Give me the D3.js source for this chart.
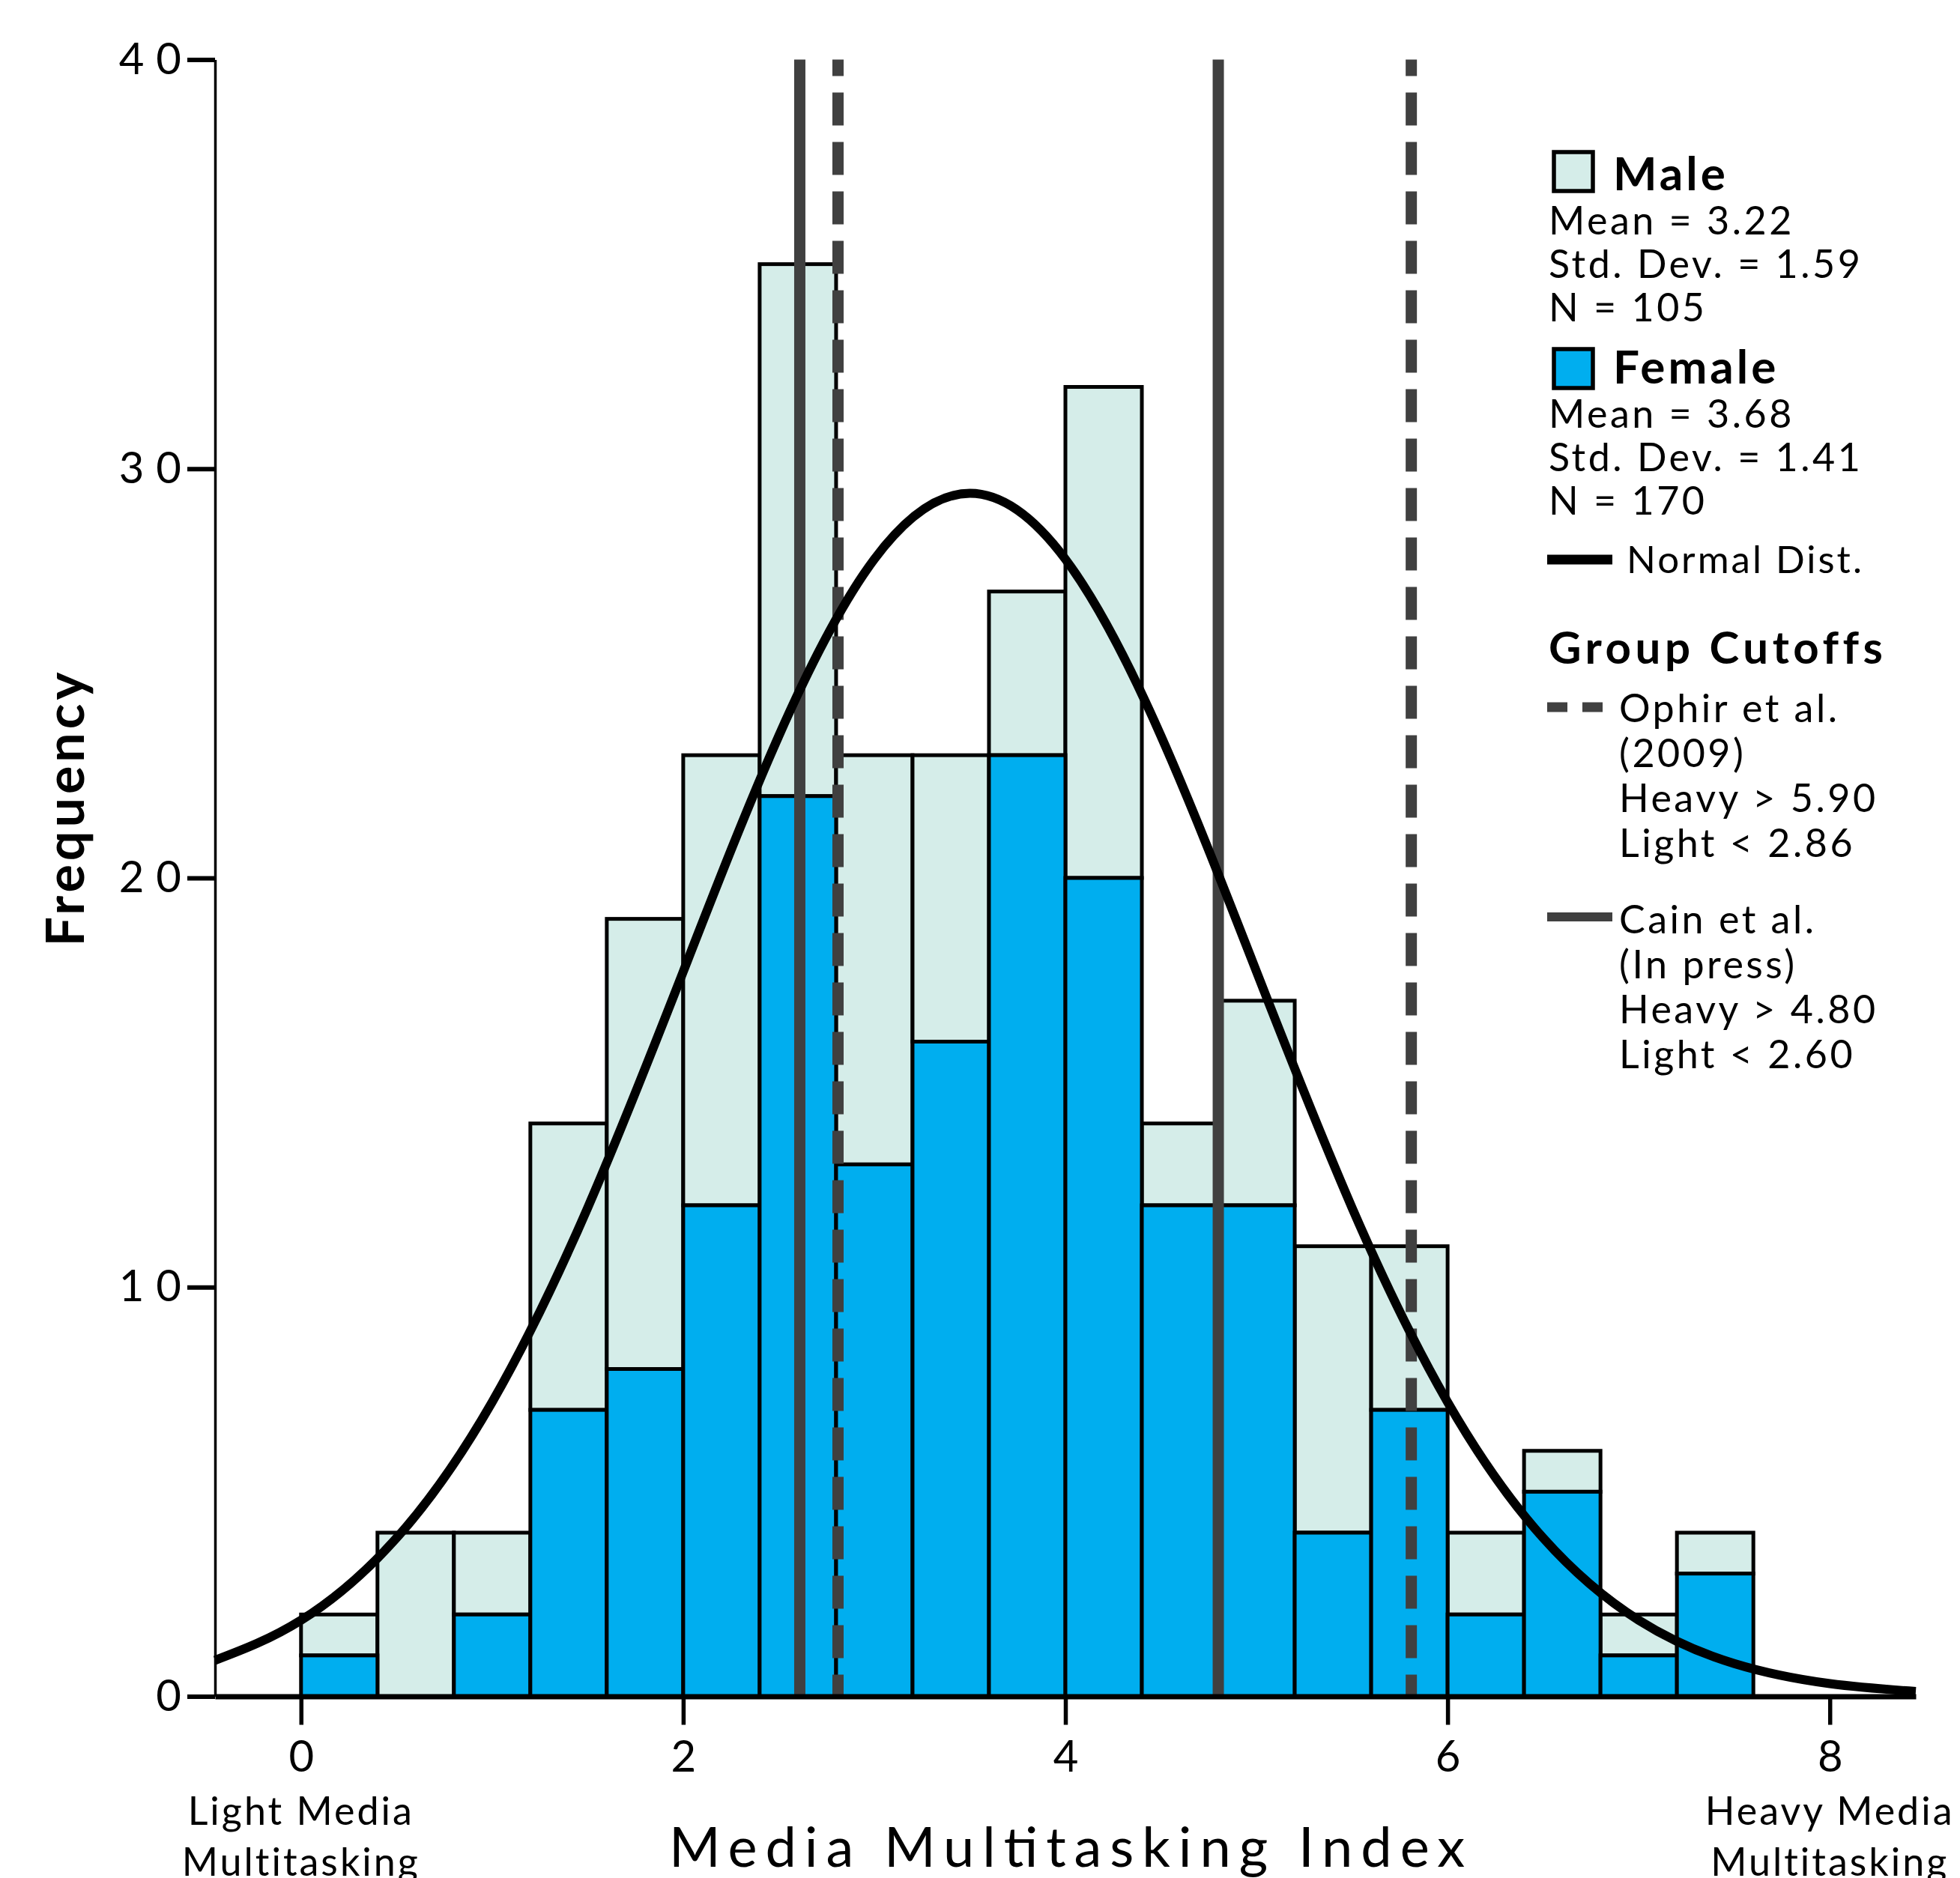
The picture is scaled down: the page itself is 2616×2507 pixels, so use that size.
<!DOCTYPE html>
<html>
<head>
<meta charset="utf-8">
<script src="https://cdn.jsdelivr.net/npm/d3@7"></script>
<style>
	body { margin: 0; background: #ffffff; }
	svg { display: block; font-family: "Lato", sans-serif; }
	.tick text { font-family: "Lato", sans-serif; }
</style>
</head>
<body>
<svg id="chart"></svg>
<script>
// Histogram bins (lower edge of each bin, width 0.4).
var binStarts = [0, 0.4, 0.8, 1.2, 1.6, 2.0, 2.4, 2.8, 3.2, 3.6, 4.0, 4.4, 4.8, 5.2, 5.6, 6.0, 6.4, 6.8, 7.2];
var binWidth = 0.4;
var femaleCounts = [1, 0, 2, 7, 8, 12, 22, 13, 16, 23, 20, 12, 12, 4, 7, 2, 5, 1, 3];
var maleCounts = [1, 4, 2, 7, 11, 11, 13, 10, 7, 4, 12, 2, 5, 7, 4, 2, 1, 1, 1];

// Normal curve.
var normalX = [-0.45, 0, 0.5, 1, 1.5, 2, 2.5, 3, 3.5, 4, 4.5, 5, 5.5, 6, 6.5, 7, 7.5, 8, 8.45];
var normalY = [0.88, 1.86, 3.87, 7.19, 11.94, 17.71, 23.47, 27.79, 29.4, 27.79, 23.47, 17.71, 11.94, 7.19, 3.87, 1.86, 0.80, 0.31, 0.12];

// Group cutoffs as drawn.
var cainCutoffs = [2.61, 4.80];
var ophirCutoffs = [2.81, 5.81];

// Axis ticks.
var xTicks = [0, 2, 4, 6, 8];
var yTicks = [0, 10, 20, 30, 40];

// Legend texts.
var maleStats = ["Mean = 3.22", "Std. Dev. = 1.59", "N  = 105"];
var femaleStats = ["Mean = 3.68", "Std. Dev. = 1.41", "N  = 170"];
var ophirLines = ["Ophir et al.", "(2009)", "Heavy > 5.90", "Light < 2.86"];
var cainLines = ["Cain et al.", "(In press)", "Heavy > 4.80", "Light < 2.60"];

// Definitions.
var width = 2616;
var height = 2507;
var maleColor = "#d5ede9";
var femaleColor = "#00aeef";
var cutoffColor = "#404040";

var svg = d3.select("#chart")
	.attr("width", width)
	.attr("height", height);

svg.append("rect")
	.attr("width", width)
	.attr("height", height)
	.attr("fill", "#ffffff");

var x = d3.scaleLinear().domain([-0.45, 8.45]).range([287, 2557]);
var y = d3.scaleLinear().domain([0, 40]).range([2264.5, 79.5]);

var bins = binStarts.map(function(b, i) {
	return {"x0" : b, "x1" : b + binWidth, "female" : femaleCounts[i], "male" : maleCounts[i]};
});

/*******
* Bars *
*******/
svg.append("g").selectAll("rect")
	.data(bins)
	.enter()
	.append("rect")
	.attr("x", function(d) { return x(d.x0); })
	.attr("width", function(d) { return x(d.x1) - x(d.x0); })
	.attr("y", function(d) { return y(d.female + d.male); })
	.attr("height", function(d) { return y(d.female) - y(d.female + d.male); })
	.attr("fill", maleColor)
	.attr("stroke", "#000")
	.attr("stroke-width", 5);

svg.append("g").selectAll("rect")
	.data(bins.filter(function(d) { return d.female > 0; }))
	.enter()
	.append("rect")
	.attr("x", function(d) { return x(d.x0); })
	.attr("width", function(d) { return x(d.x1) - x(d.x0); })
	.attr("y", function(d) { return y(d.female); })
	.attr("height", function(d) { return y(0) - y(d.female); })
	.attr("fill", femaleColor)
	.attr("stroke", "#000")
	.attr("stroke-width", 5);

/**********************
* Group cutoff lines *
**********************/
svg.append("g").selectAll("line")
	.data(cainCutoffs)
	.enter()
	.append("line")
	.attr("x1", function(d) { return x(d); })
	.attr("x2", function(d) { return x(d); })
	.attr("y1", y(40))
	.attr("y2", y(0))
	.attr("stroke", cutoffColor)
	.attr("stroke-width", 15);

svg.append("g").selectAll("line")
	.data(ophirCutoffs)
	.enter()
	.append("line")
	.attr("x1", function(d) { return x(d); })
	.attr("x2", function(d) { return x(d); })
	.attr("y1", y(40))
	.attr("y2", y(0))
	.attr("stroke", cutoffColor)
	.attr("stroke-width", 15)
	.attr("stroke-dasharray", "44,22")
	.attr("stroke-dashoffset", 22);

/***************
* Normal curve *
***************/
var normalLine = d3.line()
	.x(function(d) { return x(d[0]); })
	.y(function(d) { return y(d[1]); })
	.curve(d3.curveNatural);

svg.append("path")
	.datum(normalX.map(function(v, i) { return [v, normalY[i]]; }))
	.attr("d", normalLine)
	.attr("fill", "none")
	.attr("stroke", "#000")
	.attr("stroke-width", 12);

/*******
* Axes *
*******/
var yAxis = svg.append("g")
	.attr("transform", "translate(" + x(-0.45) + ",0)")
	.call(d3.axisLeft(y).tickValues(yTicks).tickSize(37).tickSizeOuter(0).tickPadding(8));
yAxis.select(".domain").attr("stroke", "#000").attr("stroke-width", 3.5);
yAxis.selectAll(".tick line").attr("stroke", "#000").attr("stroke-width", 6);
yAxis.selectAll(".tick text")
	.attr("font-size", 58)
	.attr("letter-spacing", 16)
	.attr("dx", 16)
	.attr("fill", "#000");

var xAxis = svg.append("g")
	.attr("transform", "translate(0," + y(0) + ")")
	.call(d3.axisBottom(x).tickValues(xTicks).tickSize(38).tickSizeOuter(0).tickPadding(21));
xAxis.select(".domain").attr("stroke", "#000").attr("stroke-width", 7);
xAxis.selectAll(".tick line").attr("stroke", "#000").attr("stroke-width", 5.5);
xAxis.selectAll(".tick text")
	.attr("font-size", 58)
	.attr("fill", "#000");

// Axis titles.
svg.append("text")
	.attr("transform", "translate(112," + 1078 + ") rotate(-90)")
	.attr("text-anchor", "middle")
	.attr("font-size", 70)
	.attr("font-weight", "bold")
	.attr("letter-spacing", 5)
	.text("Frequency");

svg.append("text")
	.attr("x", 893)
	.attr("y", 2492)
	.attr("font-size", 74)
	.attr("textLength", 1062)
	.attr("lengthAdjust", "spacing")
	.text("Media Multitasking Index");

// End labels under the x axis.
var endLabels = [
	{"value" : 0, "lines" : ["Light Media", "Multitasking"]},
	{"value" : 8, "lines" : ["Heavy Media", "Multitasking"]}
];
endLabels.forEach(function(lab) {
	lab.lines.forEach(function(t, i) {
		svg.append("text")
			.attr("x", x(lab.value))
			.attr("y", 2436 + i * 68)
			.attr("text-anchor", "middle")
			.attr("font-size", 52)
			.attr("letter-spacing", 3)
			.text(t);
	});
});

/*********
* Legend *
*********/
var legend = svg.append("g");
var legendX = 2067;
var lineGap = 58;

function legendBlock(color, title, stats, boxY, titleY)
{
	legend.append("rect")
		.attr("x", legendX + 7)
		.attr("y", boxY)
		.attr("width", 52)
		.attr("height", 52)
		.attr("fill", color)
		.attr("stroke", "#000")
		.attr("stroke-width", 5.5);
	legend.append("text")
		.attr("x", 2153)
		.attr("y", titleY)
		.attr("font-size", 62)
		.attr("font-weight", "bold")
		.attr("letter-spacing", 4)
		.text(title);
	stats.forEach(function(t, i) {
		legend.append("text")
			.attr("x", legendX)
			.attr("y", titleY + 59 + i * lineGap)
			.attr("font-size", 52)
			.attr("letter-spacing", 3.5)
			.text(t);
	});
}
legendBlock(maleColor, "Male", maleStats, 203, 254);
legendBlock(femaleColor, "Female", femaleStats, 466, 512);

// Normal distribution key.
legend.append("line")
	.attr("x1", 2065).attr("x2", 2152)
	.attr("y1", 747).attr("y2", 747)
	.attr("stroke", "#000")
	.attr("stroke-width", 13);
legend.append("text")
	.attr("x", 2171)
	.attr("y", 765)
	.attr("font-size", 51)
	.attr("letter-spacing", 3)
	.text("Normal Dist.");

legend.append("text")
	.attr("x", legendX)
	.attr("y", 886)
	.attr("font-size", 60)
	.attr("font-weight", "bold")
	.attr("letter-spacing", 5.5)
	.text("Group Cutoffs");

// Cutoff keys.
legend.append("line")
	.attr("x1", 2065).attr("x2", 2139)
	.attr("y1", 944).attr("y2", 944)
	.attr("stroke", cutoffColor)
	.attr("stroke-width", 13)
	.attr("stroke-dasharray", "27,20");
legend.append("line")
	.attr("x1", 2065).attr("x2", 2152)
	.attr("y1", 1224).attr("y2", 1224)
	.attr("stroke", cutoffColor)
	.attr("stroke-width", 12);

ophirLines.forEach(function(t, i) {
	legend.append("text")
		.attr("x", 2161)
		.attr("y", 964 + i * 60)
		.attr("font-size", 52)
		.attr("letter-spacing", 3.5)
		.text(t);
});
cainLines.forEach(function(t, i) {
	legend.append("text")
		.attr("x", 2161)
		.attr("y", 1246 + i * 60)
		.attr("font-size", 52)
		.attr("letter-spacing", 3.5)
		.text(t);
});
</script>
</body>
</html>
